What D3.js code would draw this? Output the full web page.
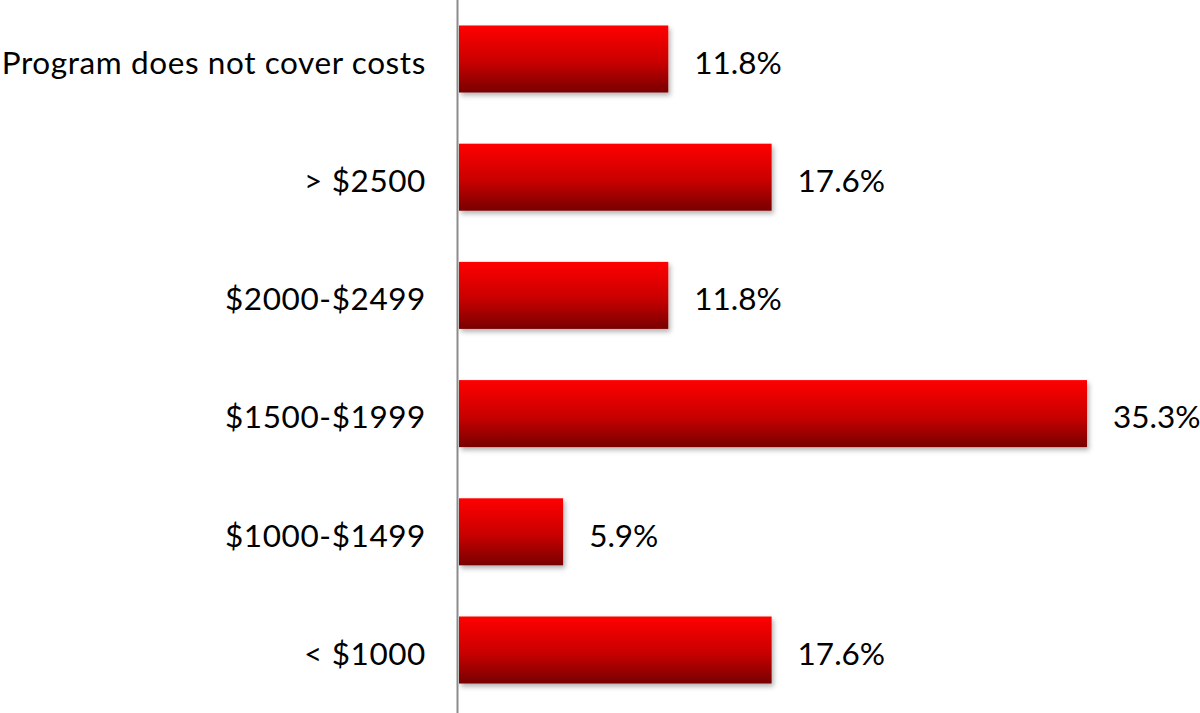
<!DOCTYPE html>
<html>
<head>
<meta charset="utf-8">
<script src="https://cdn.jsdelivr.net/npm/d3@7"></script>
<style>
  body { margin: 0; background: #fff; }
  svg text { font-family: Lato, "Open Sans", sans-serif; fill: #000; }
</style>
</head>
<body>
<div id="chart"></div>
<script>
// categories top to bottom
var categories = ['Program does not cover costs', '> $2500', '$2000-$2499', '$1500-$1999', '$1000-$1499', '< $1000']
var values = [11.8, 17.6, 11.8, 35.3, 5.9, 17.6]
var value_labels = ['11.8%', '17.6%', '11.8%', '35.3%', '5.9%', '17.6%']

var width = 1200
var height = 713
var axis_x = 458

var svg = d3.select('#chart').append('svg')
  .attr('width', width)
  .attr('height', height)

var defs = svg.append('defs')

var grad = defs.append('linearGradient')
  .attr('id', 'bar_grad')
  .attr('x1', 0).attr('y1', 0)
  .attr('x2', 0).attr('y2', 1)
grad.append('stop').attr('offset', '0%').attr('stop-color', '#ff0000')
grad.append('stop').attr('offset', '55%').attr('stop-color', '#c80000')
grad.append('stop').attr('offset', '100%').attr('stop-color', '#780000')

var shadow = defs.append('filter')
  .attr('id', 'bar_shadow')
  .attr('x', '-5%').attr('y', '-10%')
  .attr('width', '115%').attr('height', '140%')
shadow.append('feDropShadow')
  .attr('dx', 2).attr('dy', 3)
  .attr('stdDeviation', 2.5)
  .attr('flood-color', '#000')
  .attr('flood-opacity', 0.3)

var x = d3.scaleLinear()
  .domain([0, 35.3])
  .range([axis_x, 1087])

var y = d3.scaleBand()
  .domain(categories)
  .range([-2, height - 2])
  .paddingInner(0.433)
  .paddingOuter(0.2325)

// bars
svg.selectAll('rect.bar')
  .data(values)
  .enter()
  .append('rect')
  .attr('class', 'bar')
  .attr('x', x(0) + 1)
  .attr('y', function(d, i) { return y(categories[i]) })
  .attr('width', function(d) { return x(d) - x(0) - 1 })
  .attr('height', y.bandwidth())
  .attr('fill', 'url(#bar_grad)')
  .attr('filter', 'url(#bar_shadow)')

// value labels
svg.selectAll('text.value')
  .data(values)
  .enter()
  .append('text')
  .attr('class', 'value')
  .attr('x', function(d) { return x(d) + 26 })
  .attr('y', function(d, i) { return y(categories[i]) + y.bandwidth() / 2 })
  .attr('dy', '0.47em')
  .style('font-size', '31.5px')
  .text(function(d, i) { return value_labels[i] })

// category labels
var y_axis = d3.axisLeft(y).tickSize(0).tickPadding(32)
var g_axis = svg.append('g')
  .attr('transform', 'translate(' + axis_x + ',0)')
  .call(y_axis)
g_axis.select('.domain').remove()
g_axis.selectAll('text')
  .attr('dy', '0.47em')
  .style('font-size', '31.5px')
  .style('letter-spacing', '0.6px')
  .style('font-family', 'Lato, "Open Sans", sans-serif')
  .attr('fill', '#000')

// vertical axis line
svg.append('line')
  .attr('x1', axis_x - 0.5).attr('x2', axis_x - 0.5)
  .attr('y1', 0).attr('y2', height)
  .attr('stroke', '#8c8c8c')
  .attr('stroke-width', 2)
</script>
</body>
</html>
